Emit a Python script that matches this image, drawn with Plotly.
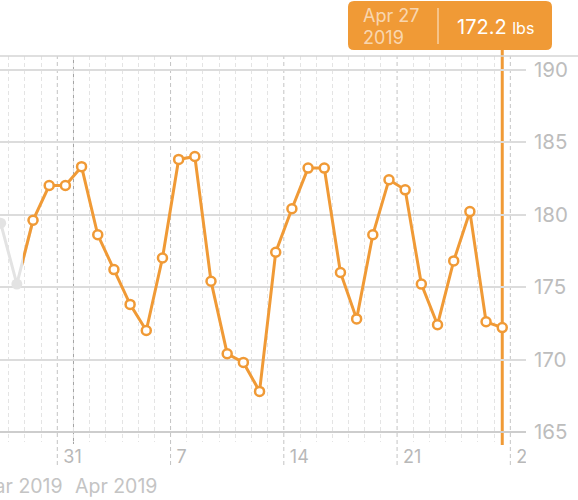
import pandas as pd
import plotly.graph_objects as go

# ---------------- data ----------------
dates = pd.date_range("2019-03-27 12:00", periods=32, freq="D")
weights = [179.4, 175.2, 179.6, 182.0, 182.0,
           183.3, 178.6, 176.2, 173.8, 172.0, 177.0, 183.8, 184.0,
           175.4, 170.4, 169.8, 167.8, 177.4, 180.4, 183.2, 183.2,
           176.0, 172.8, 178.6, 182.4, 181.7, 175.2, 172.4, 176.8,
           180.2, 172.6, 172.2]
grey_count = 3
week_starts = pd.to_datetime(["2019-03-31", "2019-04-07", "2019-04-14",
                              "2019-04-21", "2019-04-28"])
week_labels = [str(d.day) for d in week_starts]
month_starts = pd.to_datetime(["2019-04-01"])
month_labels = ["Mar 2019", "Apr 2019"]
y_ticks = [165, 170, 175, 180, 185, 190]
unit = "lbs"

# ---------------- style / layout helpers ----------------
W, H = 578, 500
ORANGE = "#F09A36"
GREY_PT = "#e3e3e3"
FONT = "Inter"


def X(p):
    return p / W


def Y(p):
    return 1 - p / H


BASE = pd.Timestamp("2019-03-31")
BASE_PX = 57.3
PPD = 16.18


def px_date(p):
    return BASE + pd.Timedelta(days=(p - BASE_PX) / PPD)


def px_val(p):
    return 165 - (p - 432) / 14.5


PL, PR, PT, PB = 0, 526, 56, 442

fig = go.Figure()

# grey (out-of-window) points
fig.add_trace(go.Scatter(
    x=dates[:grey_count], y=weights[:grey_count], mode="lines+markers",
    line=dict(color=GREY_PT, width=3),
    marker=dict(color=GREY_PT, size=11),
    xaxis="x", yaxis="y", hoverinfo="skip", showlegend=False))

# orange series
fig.add_trace(go.Scatter(
    x=dates[1:], y=weights[1:], mode="lines+markers",
    line=dict(color=ORANGE, width=3),
    marker=dict(color="white", size=9, line=dict(color=ORANGE, width=2.5)),
    xaxis="x2", yaxis="y", hoverinfo="skip", showlegend=False))

# week labels (clipped at plot edge)
fig.add_trace(go.Scatter(
    x=week_starts, y=[0] * len(week_starts), mode="markers+text",
    text=week_labels, textposition="middle right",
    marker=dict(size=8, color="rgba(0,0,0,0)"),
    textfont=dict(family=FONT, size=18, color="#b8b8b8"),
    xaxis="x3", yaxis="y3", hoverinfo="skip", showlegend=False))

shapes = []
# top border
shapes.append(dict(type="line", xref="paper", yref="paper", x0=0, x1=1,
                   y0=Y(56), y1=Y(56), line=dict(color="#d4d4d4", width=1.5)))
# bottom axis line (165)
shapes.append(dict(type="line", xref="paper", yref="y", x0=X(PL), x1=X(PR),
                   y0=165, y1=165, line=dict(color="#c8c8c8", width=1.5)))
# week lines
for d in week_starts:
    shapes.append(dict(type="line", xref="x", yref="paper", x0=d, x1=d,
                       y0=Y(465), y1=Y(56), layer="below",
                       line=dict(color="#c4c4c4", width=1, dash="4px,3px")))
# month lines
for d in month_starts:
    shapes.append(dict(type="line", xref="x", yref="paper", x0=d, x1=d,
                       y0=Y(444), y1=Y(56), layer="below",
                       line=dict(color="#a3a3a3", width=1)))
# cursor line
shapes.append(dict(type="line", xref="x", yref="paper", x0=dates[-1], x1=dates[-1],
                   y0=Y(445), y1=Y(50), layer="between",
                   line=dict(color=ORANGE, width=3)))

# tooltip box with rounded corners
bx0, bx1, by0, by1, r = 348, 552, 1, 50, 6
path = (f"M {X(bx0+r)},{Y(by0)} L {X(bx1-r)},{Y(by0)} "
        f"Q {X(bx1)},{Y(by0)} {X(bx1)},{Y(by0+r)} L {X(bx1)},{Y(by1-r)} "
        f"Q {X(bx1)},{Y(by1)} {X(bx1-r)},{Y(by1)} L {X(bx0+r)},{Y(by1)} "
        f"Q {X(bx0)},{Y(by1)} {X(bx0)},{Y(by1-r)} L {X(bx0)},{Y(by0+r)} "
        f"Q {X(bx0)},{Y(by0)} {X(bx0+r)},{Y(by0)} Z")
shapes.append(dict(type="path", xref="paper", yref="paper", path=path,
                   fillcolor=ORANGE, line=dict(width=0), layer="above"))
shapes.append(dict(type="line", xref="paper", yref="paper", x0=X(438), x1=X(438),
                   y0=Y(8), y1=Y(44), layer="above",
                   line=dict(color="rgba(255,255,255,0.55)", width=1.5)))

last = dates[-1]
annotations = [
    dict(xref="paper", yref="paper", x=X(361), y=Y(15), xanchor="left", yanchor="middle",
         text=last.strftime("%b %-d"), showarrow=False,
         font=dict(family=FONT, size=18, color="rgba(255,255,255,0.62)")),
    dict(xref="paper", yref="paper", x=X(361), y=Y(38), xanchor="left", yanchor="middle",
         text=last.strftime("%Y"), showarrow=False,
         font=dict(family=FONT, size=18, color="rgba(255,255,255,0.62)")),
    dict(xref="paper", yref="paper", x=X(495), y=Y(27), xanchor="center", yanchor="middle",
         text=f"{weights[-1]:.1f} <span style='font-size:16px'>{unit}</span>",
         showarrow=False, font=dict(family=FONT, size=20, color="white")),
    dict(xref="paper", yref="paper", x=X(65), y=Y(486), xanchor="right", yanchor="middle",
         text=month_labels[0], showarrow=False,
         font=dict(family=FONT, size=19.5, color="#c4c4c4")),
    dict(xref="x", yref="paper", x=month_starts[0], y=Y(486), xanchor="left", yanchor="middle",
         text=month_labels[1], showarrow=False,
         font=dict(family=FONT, size=19.5, color="#c4c4c4")),
]

xr = [px_date(PL), px_date(PR)]
fig.update_layout(
    width=W, height=H, margin=dict(l=0, r=0, t=0, b=0, autoexpand=False),
    paper_bgcolor="white", plot_bgcolor="rgba(0,0,0,0)",
    shapes=shapes, annotations=annotations, hovermode=False,
    xaxis=dict(domain=[X(PL), X(PR)], range=xr, type="date", anchor="y",
               automargin=False,
               showgrid=False, showticklabels=False, zeroline=False, showline=False,
               ticks="",
               minor=dict(dtick=86400000, tick0="2019-03-27", showgrid=True,
                          gridcolor="#e4e4e4", griddash="4px,3px", gridwidth=1)),
    xaxis2=dict(domain=[X(23), X(PR)], range=[px_date(23), px_date(PR)], type="date",
                anchor="y", visible=False, automargin=False),
    yaxis=dict(domain=[Y(PB), Y(PT)], range=[px_val(PB), px_val(PT)], anchor="x",
               automargin=False,
               side="right", tickvals=y_ticks, showgrid=True, gridcolor="#dcdcdc",
               gridwidth=1.5, zeroline=False, showline=False, ticks="",
               ticklabelstandoff=7,
               tickfont=dict(family=FONT, size=20.5, color="#bdbdbd")),
    xaxis3=dict(domain=[X(PL), X(PR)], range=xr, type="date", anchor="y3",
                visible=False, automargin=False),
    yaxis3=dict(domain=[Y(470), Y(446)], range=[-1, 1], anchor="x3",
                visible=False, automargin=False),
)

fig.write_html("out.html", config={"displayModeBar": False},
               post_script="document.body.style.margin='0';")
